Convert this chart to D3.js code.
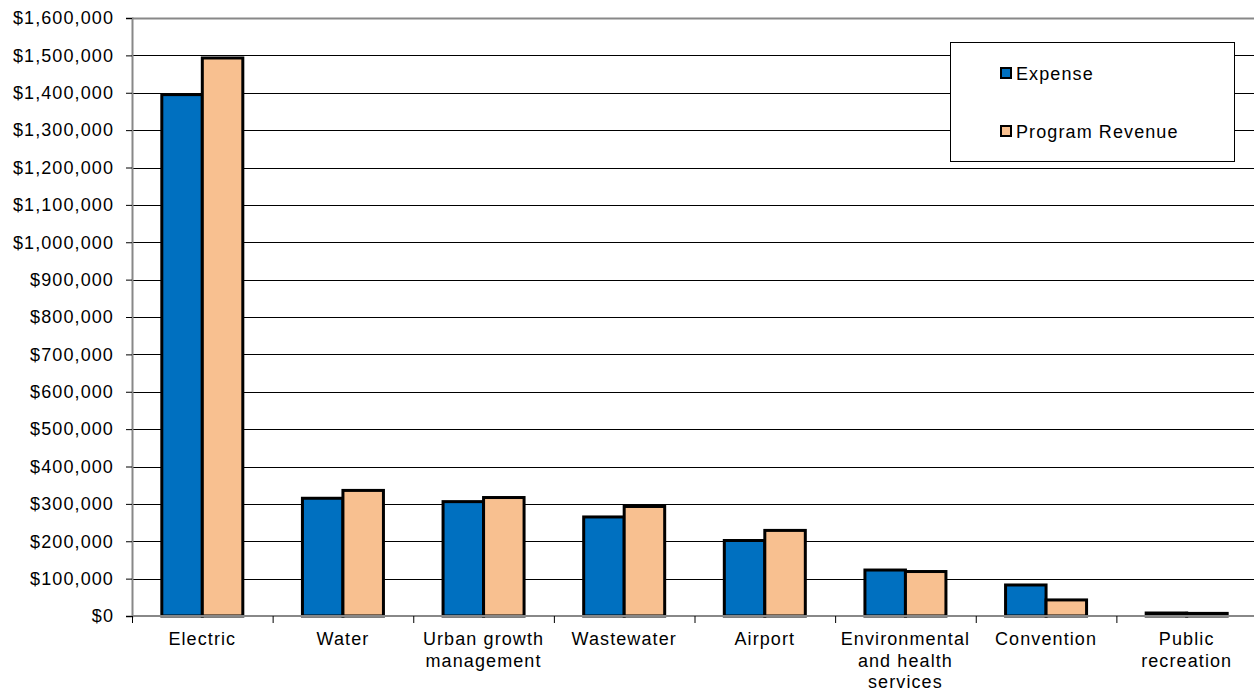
<!DOCTYPE html>
<html><head><meta charset="utf-8">
<script src="https://cdn.jsdelivr.net/npm/d3@7"></script>
<style>body{margin:0;background:#fff}svg{display:block}text{font-family:"Liberation Sans",Arial,sans-serif}</style>
</head><body>
<svg id="c" width="1254" height="692"></svg>
<script>
const categories = [["Electric"],["Water"],["Urban growth","management"],["Wastewater"],["Airport"],["Environmental","and health","services"],["Convention"],["Public","recreation"]];
const seriesNames = ["Expense","Program Revenue"];
const expense = [1395000,315000,306000,265000,202000,123000,83000,8000];
const revenue = [1493000,336000,317000,293000,229000,119000,43000,7000];
const colors = ["#0070C0","#F8C090"];
const yTicks = d3.range(0,1600001,100000);

const FS = 18, LS = 1.1;
const svg = d3.select("#c");
const L=132,T=18,R=1257,B=616;
const x = d3.scaleBand().domain(d3.range(categories.length)).range([L,R]).paddingInner(0).paddingOuter(0);
const y = d3.scaleLinear().domain([0,1600000]).range([B,T]);
const inner = d3.scaleBand().domain([0,1]).range([0,x.bandwidth()]).paddingInner(0).paddingOuter(0.736);

// gridlines
svg.append("g").selectAll("line").data(yTicks.slice(1)).join("line")
 .attr("x1",L).attr("x2",1254).attr("y1",d=>Math.round(y(d))+0.5).attr("y2",d=>Math.round(y(d))+0.5)
 .attr("stroke",d=>d===1600000?"#888":"#000").attr("stroke-width",d=>d===1600000?2:1);

// y axis
const ya = svg.append("g").attr("transform",`translate(${L},0)`)
 .call(d3.axisLeft(y).tickValues(yTicks).tickSize(6).tickPadding(12).tickFormat(d=>"$"+d3.format(",")(d)));
ya.select(".domain").attr("stroke","#888").attr("stroke-width",2);
ya.selectAll(".tick line").attr("stroke","#000");
ya.selectAll("text").attr("font-size",FS).attr("letter-spacing",LS).attr("fill","#000").attr("font-family","Liberation Sans, Arial, sans-serif");

// bars
const data = categories.map((c,i)=>[expense[i],revenue[i]]);
const g = svg.append("g");
data.forEach((vals,i)=>{
  vals.forEach((v,s)=>{
    g.append("rect").attr("x",x(i)+inner(s)).attr("width",inner.bandwidth())
     .attr("y",y(v)).attr("height",B-y(v))
     .attr("fill",colors[s]).attr("stroke","#000").attr("stroke-width",3);
  });
});

// x axis
const xa = svg.append("g").attr("transform",`translate(0,${B})`);
xa.append("line").attr("x1",L).attr("x2",1254).attr("stroke","#888").attr("stroke-width",2);
const bounds = d3.range(categories.length).map(i=>x(i));
xa.selectAll(".tk").data(bounds).join("line").attr("x1",d=>d+0.5).attr("x2",d=>d+0.5).attr("y1",0).attr("y2",7).attr("stroke","#000");
categories.forEach((lines,i)=>{
  const cx = x(i)+x.bandwidth()/2;
  const t = xa.append("text").attr("x",cx).attr("y",29).attr("text-anchor","middle").attr("font-size",FS).attr("letter-spacing",LS).attr("fill","#000");
  lines.forEach((ln,k)=>t.append("tspan").attr("x",cx).attr("dy",k===0?0:21.5).text(ln));
});

// legend
const lg = svg.append("g");
lg.append("rect").attr("x",950.5).attr("y",42.5).attr("width",284).attr("height",119).attr("fill","#fff").attr("stroke","#000").attr("stroke-width",1);
const ly=[73,131];
seriesNames.forEach((n,s)=>{
  lg.append("rect").attr("x",1001).attr("y",ly[s]-5).attr("width",10).attr("height",10).attr("fill",colors[s]).attr("stroke","#000").attr("stroke-width",2);
  lg.append("text").attr("x",1016).attr("y",ly[s]+6.5).attr("font-size",FS).attr("letter-spacing",LS).attr("fill","#000").text(n);
});
</script>
</body></html>
